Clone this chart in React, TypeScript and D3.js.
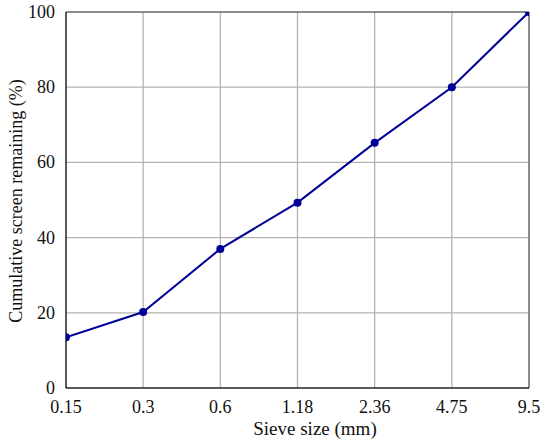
import React from "react";
import * as d3 from "d3";

const sieveSizes = ["0.15", "0.3", "0.6", "1.18", "2.36", "4.75", "9.5"];
const remaining = [13.5, 20.2, 37.0, 49.3, 65.2, 80.0, 100.0];
const yTicks = [0, 20, 40, 60, 80, 100];

export default function App() {
  const W = 550, H = 446;
  const left = 66, right = 529, top = 12, bottom = 388;
  const x = d3.scalePoint<string>().domain(sieveSizes).range([left, right]);
  const y = d3.scaleLinear().domain([0, 100]).range([bottom, top]);
  const pts = sieveSizes.map((s, i) => [x(s) as number, y(remaining[i])] as [number, number]);
  const line = d3.line()(pts) as string;
  const font = "'Liberation Serif', 'Times New Roman', serif";
  return (
    <svg width={W} height={H} style={{ position: "absolute", left: 0, top: 0, background: "#fff" }} fontFamily={font}>
      <defs>
        <clipPath id="plot">
          <rect x={left} y={top} width={right - left} height={bottom - top} />
        </clipPath>
      </defs>
      {sieveSizes.slice(1, -1).map((s) => (
        <line key={s} x1={x(s)} x2={x(s)} y1={top} y2={bottom} stroke="#b3b3b3" strokeWidth={1.3} />
      ))}
      {yTicks.slice(1, -1).map((t) => (
        <line key={t} x1={left} x2={right} y1={y(t)} y2={y(t)} stroke="#b3b3b3" strokeWidth={1.3} />
      ))}
      <line x1={left} x2={right} y1={top} y2={top} stroke="#666" strokeWidth={1.5} />
      <line x1={right} x2={right} y1={top} y2={bottom} stroke="#666" strokeWidth={1.5} />
      <line x1={left} x2={left} y1={top} y2={bottom} stroke="#222" strokeWidth={1.5} />
      <line x1={left} x2={right} y1={bottom} y2={bottom} stroke="#222" strokeWidth={1.5} />
      <g clipPath="url(#plot)">
        <path d={line} fill="none" stroke="#000099" strokeWidth={2} />
        {pts.map(([px, py], i) => (
          <circle key={i} cx={px} cy={py} r={4} fill="#000099" />
        ))}
      </g>
      {yTicks.map((t) => (
        <text key={t} x={55} y={y(t) + 6} textAnchor="end" fontSize={18} fill="#111">{t}</text>
      ))}
      {sieveSizes.map((s) => (
        <text key={s} x={x(s)} y={413} textAnchor="middle" fontSize={18} fill="#111">{s}</text>
      ))}
      <text x={315} y={435} textAnchor="middle" fontSize={19} fill="#111">Sieve size (mm)</text>
      <text transform={`translate(22,201) rotate(-90)`} textAnchor="middle" fontSize={18} fill="#111">
        Cumulative screen remaining (%)
      </text>
    </svg>
  );
}
